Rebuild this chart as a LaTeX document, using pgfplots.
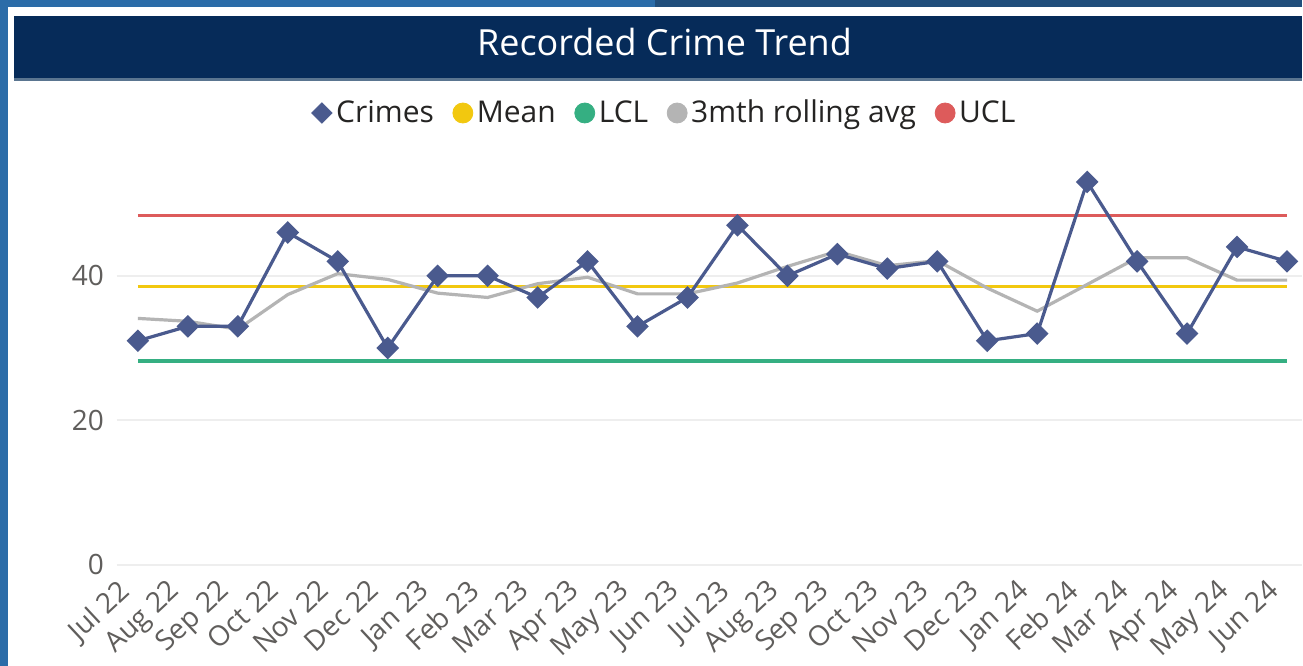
\documentclass[border=0pt]{standalone}
\usepackage{pgfplots}
\pgfplotsset{compat=1.18}
\usepackage{fontspec}
\setmainfont{Open Sans}

\definecolor{stripblue}{HTML}{2B6CA8}
\definecolor{stripdark}{HTML}{214E7B}
\definecolor{titlenavy}{HTML}{062B59}
\definecolor{titleedge}{HTML}{5A7590}
\definecolor{crimecol}{HTML}{4A5A8E}
\definecolor{meancol}{HTML}{F2C80F}
\definecolor{lclcol}{HTML}{35AF82}
\definecolor{avgcol}{HTML}{B4B4B4}
\definecolor{uclcol}{HTML}{DD5B5B}
\definecolor{gridcol}{HTML}{EEEEEE}
\definecolor{tickcol}{HTML}{605E5C}
\definecolor{legcol}{HTML}{252423}

% monthly recorded crimes, Jul 22 .. Jun 24 (index 0..23)
\pgfplotstableread{
idx crimes avg
0  31 34.1
1  33 33.7
2  33 32.6
3  46 37.4
4  42 40.3
5  30 39.5
6  40 37.6
7  40 37.0
8  37 38.9
9  42 39.8
10 33 37.5
11 37 37.5
12 47 39.0
13 40 41.3
14 43 43.4
15 41 41.4
16 42 42.1
17 31 38.3
18 32 35.1
19 53 38.8
20 42 42.5
21 32 42.5
22 44 39.4
23 42 39.4
}\crimedata

\begin{document}
\begin{tikzpicture}
\begin{scope}[x=0.5pt,y=0.5pt]
\useasboundingbox (0,0) rectangle (1303,666);
\fill[white] (0,0) rectangle (1303,666);
\fill[stripblue] (0,0) rectangle (8,666);
\fill[stripblue] (0,659) rectangle (655,666);
\fill[stripdark] (655,659) rectangle (1303,666);
\fill[titlenavy] (14,588) rectangle (1303,650);
\fill[titleedge] (14,585) rectangle (1303,588);
\node[white, anchor=base, font=\fontsize{18}{20}\selectfont, inner sep=0pt]
  at (665,610) {Recorded Crime Trend};
\end{scope}

\begin{axis}[
  at={(58.5pt,50.5pt)}, anchor=south west,
  scale only axis, width=593pt, height=202.3pt,
  xmin=-0.42, xmax=23.3, ymin=0, ymax=56,
  axis line style={draw=none}, tick style={draw=none},
  ytick={0,20,40}, ymajorgrids,
  grid style={gridcol, line width=1pt},
  xtick={0,...,23},
  xticklabels={Jul 22,Aug 22,Sep 22,Oct 22,Nov 22,Dec 22,Jan 23,Feb 23,
    Mar 23,Apr 23,May 23,Jun 23,Jul 23,Aug 23,Sep 23,Oct 23,Nov 23,Dec 23,
    Jan 24,Feb 24,Mar 24,Apr 24,May 24,Jun 24},
  /pgf/number format/assume math mode=true,
  tick label style={font=\fontsize{14}{16}\selectfont, text=tickcol},
  x tick label style={xshift=-10.5pt, yshift=-6.5pt, rotate=43, anchor=north east, inner sep=0pt},
  y tick label style={xshift=-3pt},
  clip=false,
  legend image code/.code={\draw[mark repeat=2,mark phase=2]
    plot coordinates {(0cm,0cm) (0.18cm,0cm) (0.36cm,0cm)};},
  legend style={at={(0.463,1.117)}, anchor=center, draw=none, fill=none,
    font=\fontsize{15}{17}\selectfont, text=legcol,
    /tikz/every even column/.append style={column sep=7.5pt}},
  legend columns=5,
]
\addplot[forget plot, uclcol, line width=1.6pt] coordinates {(0,48.4) (23,48.4)};
\addplot[forget plot, meancol, line width=1.8pt] coordinates {(0,38.5) (23,38.5)};
\addplot[forget plot, lclcol, line width=1.6pt] coordinates {(0,28.2) (23,28.2)};
\addplot[forget plot, avgcol, line width=1.6pt] table[x=idx, y=avg] {\crimedata};
\addplot[forget plot, crimecol, line width=1.6pt, mark=square*, mark size=3.2pt,
  mark options={solid, rotate=45}] table[x=idx, y=crimes] {\crimedata};

\addlegendimage{only marks, mark=square*, mark size=3.6pt, mark options={rotate=45}, crimecol}
\addlegendentry{Crimes}
\addlegendimage{only marks, mark=*, mark size=5pt, meancol}
\addlegendentry{Mean}
\addlegendimage{only marks, mark=*, mark size=5pt, lclcol}
\addlegendentry{LCL}
\addlegendimage{only marks, mark=*, mark size=5pt, avgcol}
\addlegendentry{3mth rolling avg}
\addlegendimage{only marks, mark=*, mark size=5pt, uclcol}
\addlegendentry{UCL}
\end{axis}
\end{tikzpicture}
\end{document}
